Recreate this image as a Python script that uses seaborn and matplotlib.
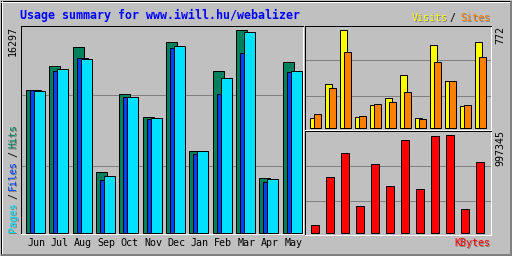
import numpy as np
import pandas as pd
import matplotlib
matplotlib.use("Agg")
import matplotlib.pyplot as plt
import matplotlib.transforms as mtransforms
import seaborn as sns

# ---------------- data ----------------
months = ["Jun", "Jul", "Aug", "Sep", "Oct", "Nov", "Dec", "Jan", "Feb", "Mar", "Apr", "May"]
hits   = [11480, 13327, 14932, 4817, 11079, 9312, 15333, 6583, 13005, 16297, 4415, 13728]
files  = [11400, 13005, 13969, 4175, 10838, 9072, 14772, 6342, 11105, 14450, 4094, 12845]
pages  = [11346, 13086, 13889, 4576, 10918, 9232, 15012, 6560, 12443, 16136, 4255, 13005]
visits = [73, 340, 772, 81, 175, 230, 411, 73, 646, 364, 167, 670]
sites  = [105, 309, 591, 89, 183, 199, 277, 65, 513, 364, 175, 552]
kbytes = [77800, 561200, 804700, 270500, 693100, 469900, 936500, 439500, 977100, 997345, 236700, 713400]
title = "Usage summary for www.iwill.hu/webalizer"

# ---------------- style ----------------
BG = "#C0C0C0"
DK = "#808080"
C_HITS, C_FILES, C_PAGES = "#00805C", "#0040FF", "#00E0FF"
C_VISITS, C_SITES, C_KB = "#FFFF00", "#FF8000", "#FF0000"
LW = 0.72  # 1 px at 100 dpi
MONO = ["DejaVu Sans Mono"]

sns.set_style("white")
plt.rcParams["font.family"] = MONO

W, H = 512, 256
fig = plt.figure(figsize=(W / 100, H / 100), dpi=100, facecolor=BG)


def px_axes(x0, y0, x1, y1):
    return fig.add_axes([x0 / W, 1 - y1 / H, (x1 - x0) / W, (y1 - y0) / H])


def fx(x):
    return x / W


def fy(y):
    return 1 - y / H


# outer 3d frame
bg = fig.add_axes([0, 0, 1, 1])
bg.set_xlim(0, W)
bg.set_ylim(H, 0)
bg.axis("off")
bg.plot([0.5, 511.5, 511.5, 0.5, 0.5], [0.5, 0.5, 255.5, 255.5, 0.5], color="black", lw=LW)
bg.plot([1, 510], [1.5, 1.5], color="white", lw=LW)
bg.plot([1.5, 1.5], [1, 254], color="white", lw=LW)
for off in (509.5, 510.5):
    bg.plot([off, off], [1, 255], color=DK, lw=LW)
for off in (253.5, 254.5):
    bg.plot([1, 511], [off, off], color=DK, lw=LW)


def style_panel(ax):
    ax.set_facecolor(BG)
    for s in ("top", "left"):
        ax.spines[s].set_color("black")
    for s in ("bottom", "right"):
        ax.spines[s].set_color("white")
    for s in ax.spines.values():
        s.set_linewidth(LW)
    ax.set_xticks([])
    ax.set_yticks([])
    ax.set_xlabel("")
    ax.set_ylabel("")


def bars(ax, pos, vals, width, color):
    sns.barplot(x=pos, y=vals, native_scale=True, width=width, color=color,
                saturation=1, edgecolor="black", linewidth=LW, errorbar=None,
                ax=ax, zorder=3)


idx = np.arange(len(months))

# ---------------- main panel: hits / files / pages ----------------
ax1 = px_axes(20.5, 25.5, 302.5, 233.5)
SP1, L1 = 23.36, 25.33
k1 = max(hits) / 203.0
bars(ax1, idx + 6 / SP1, hits, 11 / SP1, C_HITS)
bars(ax1, idx + 10 / SP1, files, 11 / SP1, C_FILES)
bars(ax1, idx + 14 / SP1, pages, 11 / SP1, C_PAGES)
ax1.set_xlim((20.5 - L1) / SP1, (302.5 - L1) / SP1)
ax1.set_ylim((232.5 - 233.5) * k1, (232.5 - 25.5) * k1)
for gy in (95.5, 165.5):
    ax1.axhline((232.5 - gy) * k1, color=DK, lw=LW, zorder=1)
style_panel(ax1)
tr = mtransforms.blended_transform_factory(ax1.transData, fig.transFigure)
for i, m in enumerate(months):
    ax1.text(i + 11 / SP1, fy(246), m, transform=tr, ha="center", va="baseline",
             fontsize=7.2, color="black")

# ---------------- top right: visits / sites ----------------
ax2 = px_axes(304.5, 25.5, 490.5, 129.5)
SP2, L2 = 15.0, 309.33
k2 = max(visits) / 98.0
bars(ax2, idx + 4 / SP2, visits, 7 / SP2, C_VISITS)
bars(ax2, idx + 8 / SP2, sites, 7 / SP2, C_SITES)
ax2.set_xlim((304.5 - L2) / SP2, (490.5 - L2) / SP2)
ax2.set_ylim((127.5 - 129.5) * k2, (127.5 - 25.5) * k2)
for gy in (60.5, 95.5):
    ax2.axhline((127.5 - gy) * k2, color=DK, lw=LW, zorder=1)
style_panel(ax2)

# ---------------- bottom right: kbytes ----------------
ax3 = px_axes(304.5, 130.5, 490.5, 234.5)
L3 = 310.33
k3 = max(kbytes) / 98.0
bars(ax3, idx + 4.67 / SP2, kbytes, 8.33 / SP2, C_KB)
ax3.set_xlim((304.5 - L3) / SP2, (490.5 - L3) / SP2)
ax3.set_ylim((232.5 - 234.5) * k3, (232.5 - 130.5) * k3)
for gy in (165.5, 200.5):
    ax3.axhline((232.5 - gy) * k3, color=DK, lw=LW, zorder=1)
style_panel(ax3)


# ---------------- texts ----------------
def shadow_text(x, y, s, color, **kw):
    fig.text(fx(x + 1), fy(y + 1), s, color=DK, **kw)
    fig.text(fx(x), fy(y), s, color=color, **kw)


fig.text(fx(20), fy(18.5), title, color="#0000FF", fontsize=8.35,
         fontweight="bold", ha="left", va="baseline")

shadow_text(412, 21, "Visits", C_VISITS, fontsize=7.2, ha="left", va="baseline")
fig.text(fx(449), fy(21), "/", color="black", fontsize=7.2, ha="left", va="baseline")
shadow_text(460, 21, "Sites", C_SITES, fontsize=7.2, ha="left", va="baseline")

shadow_text(490, 246, "KBytes", C_KB, fontsize=7.2, ha="right", va="baseline")

# vertical legend on left (reads upwards)
vkw = dict(fontsize=7.2, rotation=90, ha="center", va="bottom")
shadow_text(13, 232, "Pages", C_PAGES, **vkw)
fig.text(fx(13), fy(199), "/", color="black", **vkw)
shadow_text(13, 190, "Files", C_FILES, **vkw)
fig.text(fx(13), fy(157), "/", color="black", **vkw)
shadow_text(13, 148, "Hits", C_HITS, **vkw)

# max values
tkw = dict(fontsize=7.2, rotation=90, ha="center", va="top", color="black")
fig.text(fx(13), fy(26), str(max(hits)), **tkw)
fig.text(fx(500.5), fy(26), str(max(visits)), **tkw)
fig.text(fx(500.5), fy(130), str(max(kbytes)), **tkw)

fig.savefig("out.png", dpi=100, facecolor=BG)
